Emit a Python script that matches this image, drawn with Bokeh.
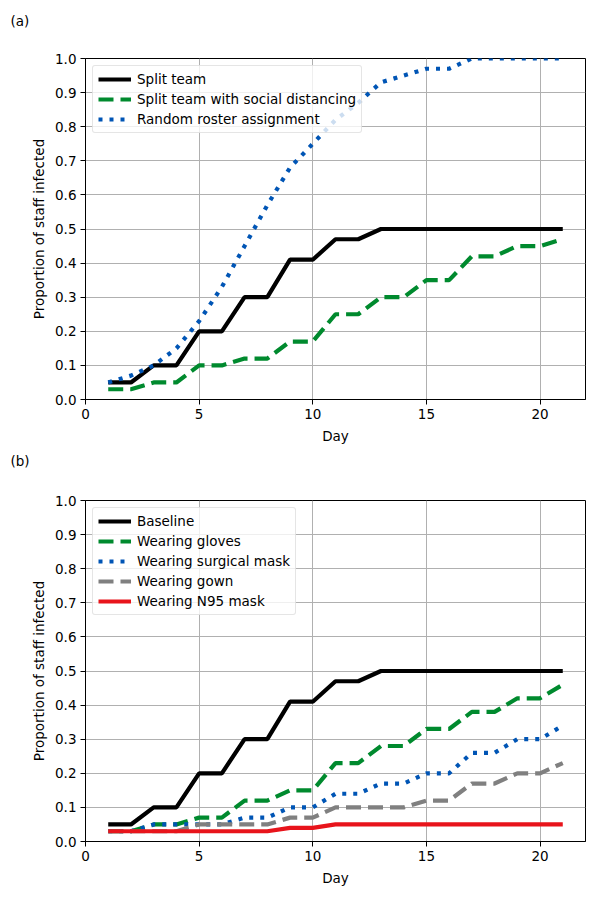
from bokeh.plotting import figure
from bokeh.layouts import column
from bokeh.models import Legend, LegendItem, FixedTicker, Range1d, PrintfTickFormatter
from bokeh.embed import file_html
from bokeh.resources import INLINE

days = list(range(1, 22))

# Panel (a)
split_team = [0.05, 0.05, 0.10, 0.10, 0.20, 0.20, 0.30, 0.30, 0.41, 0.41, 0.47,
              0.47, 0.50, 0.50, 0.50, 0.50, 0.50, 0.50, 0.50, 0.50, 0.50]
split_social = [0.03, 0.03, 0.05, 0.05, 0.10, 0.10, 0.12, 0.12, 0.17, 0.17, 0.25,
                0.25, 0.30, 0.30, 0.35, 0.35, 0.42, 0.42, 0.45, 0.45, 0.47]
random_roster = [0.05, 0.07, 0.10, 0.15, 0.23, 0.33, 0.45, 0.57, 0.68, 0.75, 0.82,
                 0.87, 0.93, 0.95, 0.97, 0.97, 1.00, 1.00, 1.00, 1.00, 1.00]

# Panel (b)
baseline = split_team
gloves = [0.03, 0.03, 0.05, 0.05, 0.07, 0.07, 0.12, 0.12, 0.15, 0.15, 0.23,
          0.23, 0.28, 0.28, 0.33, 0.33, 0.38, 0.38, 0.42, 0.42, 0.46]
surgical = [0.03, 0.03, 0.05, 0.05, 0.05, 0.05, 0.07, 0.07, 0.10, 0.10, 0.14,
            0.14, 0.17, 0.17, 0.20, 0.20, 0.26, 0.26, 0.30, 0.30, 0.34]
gown = [0.03, 0.03, 0.03, 0.03, 0.05, 0.05, 0.05, 0.05, 0.07, 0.07, 0.10,
        0.10, 0.10, 0.10, 0.12, 0.12, 0.17, 0.17, 0.20, 0.20, 0.23]
n95 = [0.03, 0.03, 0.03, 0.03, 0.03, 0.03, 0.03, 0.03, 0.04, 0.04, 0.05,
       0.05, 0.05, 0.05, 0.05, 0.05, 0.05, 0.05, 0.05, 0.05, 0.05]

panel_tags = ["(a)", "(b)"]
x_ticks = [0, 5, 10, 15, 20]
y_ticks = [0.0, 0.1, 0.2, 0.3, 0.4, 0.5, 0.6, 0.7, 0.8, 0.9, 1.0]

BLACK = "#000000"
GREEN = "#008a2e"
BLUE = "#0055b5"
GRAY = "#808080"
RED = "#e8141b"
FONT = "DejaVu Sans"
LW = 4.2
DASH = "15 7"
DOT = "4 7"


def make_header(tag, height, standoff):
    h = figure(width=600, height=height, output_backend="svg", toolbar_location=None,
               x_range=Range1d(0, 1), y_range=Range1d(0, 1),
               x_axis_type=None, y_axis_type=None,
               min_border_left=85, min_border_right=15,
               min_border_top=0, min_border_bottom=0)
    h.outline_line_color = None
    h.background_fill_color = "white"
    h.border_fill_color = "white"
    h.title.text = tag
    h.title.align = "left"
    h.title.offset = -75
    h.title.standoff = standoff
    h.title.text_font = FONT
    h.title.text_font_size = "13.5px"
    h.title.text_font_style = "normal"
    h.title.text_color = "black"
    return h


def make_panel(series, top, bottom):
    p = figure(width=600, height=top + 341 + bottom, output_backend="svg",
               toolbar_location=None,
               x_range=Range1d(0, 22), y_range=Range1d(0, 1.0),
               min_border_left=85, min_border_right=15,
               min_border_top=top, min_border_bottom=bottom)
    p.title = None
    p.outline_line_color = "black"
    p.outline_line_width = 1
    p.background_fill_color = "white"
    p.border_fill_color = "white"
    for ax in (p.xaxis[0], p.yaxis[0]):
        ax.axis_line_color = "black"
        ax.major_tick_line_color = "black"
        ax.major_tick_out = 5
        ax.major_tick_in = 0
        ax.minor_tick_line_color = None
        ax.major_label_text_font = FONT
        ax.major_label_text_font_size = "13.5px"
        ax.major_label_text_color = "black"
        ax.axis_label_text_font = FONT
        ax.axis_label_text_font_size = "13.5px"
        ax.axis_label_text_font_style = "normal"
        ax.axis_label_text_color = "black"
    p.xaxis.ticker = FixedTicker(ticks=x_ticks)
    p.yaxis.ticker = FixedTicker(ticks=y_ticks)
    p.yaxis.formatter = PrintfTickFormatter(format="%.1f")
    p.xaxis.axis_label = "Day"
    p.yaxis.axis_label = "Proportion of staff infected"
    p.xaxis.major_label_standoff = 4
    p.yaxis.major_label_standoff = 4
    p.xaxis.axis_label_standoff = 6
    p.yaxis.axis_label_standoff = 5
    for g in (p.xgrid[0], p.ygrid[0]):
        g.grid_line_color = "#b0b0b0"
        g.grid_line_width = 1
    p.xgrid.ticker = FixedTicker(ticks=x_ticks)
    p.ygrid.ticker = FixedTicker(ticks=y_ticks)

    items = []
    for label, ys, color, dash in series:
        r = p.line(days, ys, line_color=color, line_width=LW, line_dash=dash)
        items.append(LegendItem(label=label, renderers=[r]))
    legend = Legend(items=items, location="top_left")
    legend.label_text_font = FONT
    legend.label_text_font_size = "13.5px"
    legend.label_text_color = "black"
    legend.glyph_width = 33
    legend.glyph_height = 12
    legend.label_height = 12
    legend.label_standoff = 6
    legend.spacing = 4
    legend.padding = 5
    legend.margin = 7
    legend.border_line_color = "#cccccc"
    legend.border_line_width = 1
    legend.border_radius = 3
    legend.background_fill_alpha = 0.8
    p.add_layout(legend, "center")
    return p


ha = make_header(panel_tags[0], 48, 20)
pa = make_panel([
    ("Split team", split_team, BLACK, "solid"),
    ("Split team with social distancing", split_social, GREEN, DASH),
    ("Random roster assignment", random_roster, BLUE, DOT),
], 10, 51)
hb = make_header(panel_tags[1], 40, 0)
pb = make_panel([
    ("Baseline", baseline, BLACK, "solid"),
    ("Wearing gloves", gloves, GREEN, DASH),
    ("Wearing surgical mask", surgical, BLUE, DOT),
    ("Wearing gown", gown, GRAY, DASH),
    ("Wearing N95 mask", n95, RED, "solid"),
], 10, 59)

layout = column(ha, pa, hb, pb, spacing=0)
open("out.html", "w").write(file_html(layout, INLINE))
